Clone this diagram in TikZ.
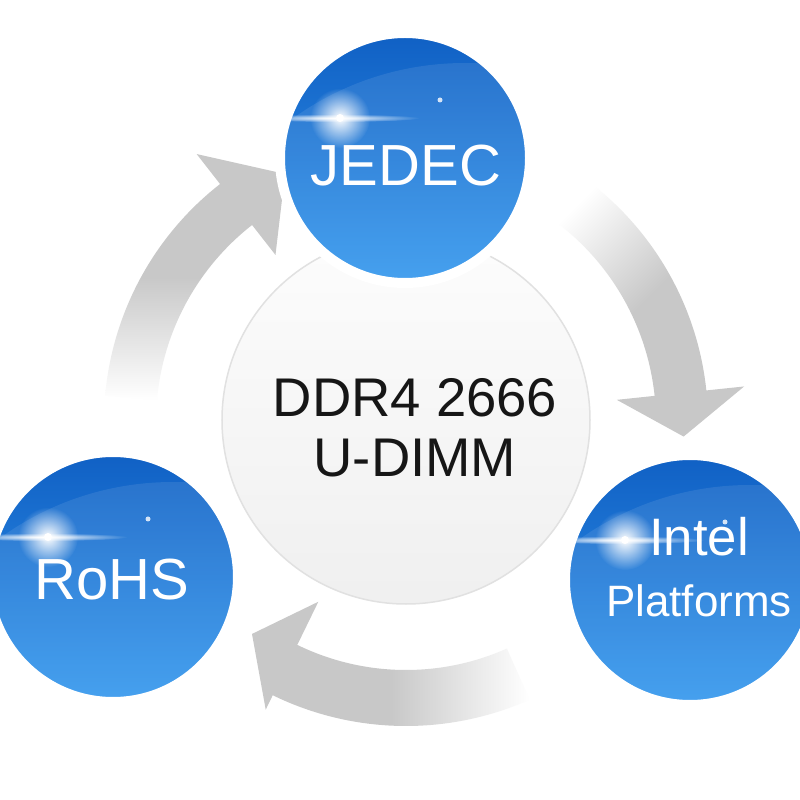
\documentclass[tikz,border=0pt]{standalone}
\usepackage{fontspec}
\setmainfont{Liberation Sans}
\usepackage{xcolor}
\definecolor{arrowgray}{RGB}{200,200,200}
\definecolor{bluetop}{RGB}{16,96,196}
\definecolor{bluebottom}{RGB}{52,152,238}
\definecolor{hubline}{RGB}{225,225,225}
\definecolor{hubtext}{RGB}{22,22,22}
\usepackage{tikz}
\usetikzlibrary{fadings}
\tikzfading[name=glow,inner color=transparent!0,outer color=transparent!100]

\begin{document}
\begin{tikzpicture}[x=0.2mm,y=0.2mm,
bubble/.style={circle,inner sep=0pt,minimum size=50mm,draw=white,line width=2mm,top color=bluetop,bottom color=bluebottom,
  path picture={\begin{scope}[shift={(path picture bounding box.center)}]
    \fill[white,opacity=0.09] (60,-200) circle (295);
    \fill[white,path fading=glow] (-70,40) ellipse [x radius=85,y radius=4];
    \fill[white,path fading=glow] (-65,40) circle (30);
    \fill[white] (-65,40) circle (4);
    \fill[white,opacity=0.8] (35,58) circle (2.5);
  \end{scope}}},
hub/.style={circle,inner sep=0pt,minimum size=73.6mm,draw=hubline,line width=0.3mm,top color=black!1,bottom color=black!6},
tag/.style={text=white,align=center,font=\fontsize{33}{36}\selectfont},
hubtag/.style={text=hubtext,align=center,font=\fontsize{31}{34}\selectfont}]
\useasboundingbox (0,0) rectangle (800,800);
\fill[white] (0,0) rectangle (800,800);
\coordinate (c) at (406,378);
% cycle arrows
\shade[top color=arrowgray,bottom color=white,middle color=arrowgray]
  ([shift={(c)}]175:302) arc[start angle=175,end angle=128,radius=302] -- ([shift={(c)}]128:340)
  -- ([shift={(c)}]116:276) -- ([shift={(c)}]128:212) -- ([shift={(c)}]128:250)
  arc[start angle=128,end angle=175,radius=250] -- cycle;
\shade[top color=white,bottom color=arrowgray,middle color=arrowgray,shading angle=45]
  ([shift={(c)}]57:302) arc[start angle=57,end angle=6,radius=302] -- ([shift={(c)}]6:340)
  -- ([shift={(c)}]-3:278) -- ([shift={(c)}]6:212) -- ([shift={(c)}]6:250)
  arc[start angle=6,end angle=57,radius=250] -- cycle;
\shade[left color=arrowgray,right color=white,middle color=arrowgray]
  ([shift={(c)}]294:304) arc[start angle=294,end angle=244,radius=304] -- ([shift={(c)}]244:320)
  -- ([shift={(c)}]234:262) -- ([shift={(c)}]244:200) -- ([shift={(c)}]244:248)
  arc[start angle=244,end angle=294,radius=248] -- cycle;
% centre and the three standards
\node[hub] (ddr) at (406,380) {};
\node[hubtag] (ddrlbl) at (415,372) {DDR4 2666\\U-DIMM};
\node[bubble] (jedec) at (405,642) {};
\node[bubble] (rohs) at (113,223) {};
\node[bubble] (intel) at (690,220) {};
\node[tag] (jedeclbl) at (406,634) {JEDEC};
\node[tag] (rohslbl) at (112,220) {RoHS};
\node[tag] (intellbl) at (699,233) {\fontsize{30}{30}\selectfont Intel\\[-1pt]\fontsize{25}{29}\selectfont Platforms};
\end{tikzpicture}
\end{document}
